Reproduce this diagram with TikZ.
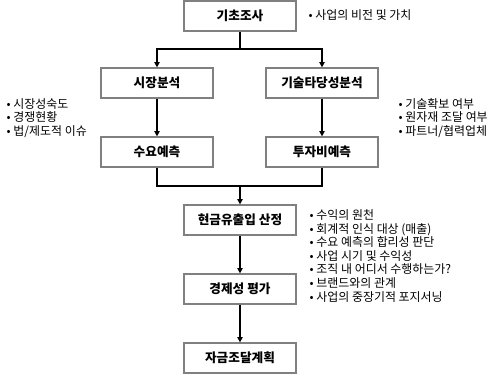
\documentclass[tikz,border=0pt]{standalone}
\usepackage{fontspec}
\setmainfont{Noto Sans CJK KR}
\usetikzlibrary{arrows.meta}

\begin{document}
\begin{tikzpicture}[x=0.02cm,y=-0.02cm,
        stepbox/.style={draw=black!50,line width=0.7pt,minimum width=2.24cm,minimum height=0.6cm,
            font=\fontsize{7.2}{8}\selectfont\bfseries,inner sep=0pt},
        note/.style={anchor=west,align=left,inner sep=0pt,font=\fontsize{6.8}{7.7}\selectfont},
        arr/.style={-{Triangle[length=3pt,width=3pt]}},
        line width=0.8pt]

    \useasboundingbox (0,0) rectangle (500,374);

    % boxes
    \node[stepbox] (gicho) at (240,16) {기초조사};
    \node[stepbox] (sijang) at (157,83) {시장분석};
    \node[stepbox] (gisul) at (322,83) {기술타당성분석};
    \node[stepbox] (suyo) at (157,152) {수요예측};
    \node[stepbox] (tuja) at (322,152) {투자비예측};
    \node[stepbox] (hyeon) at (240,220) {현금유출입 산정};
    \node[stepbox] (gyeong) at (240,289) {경제성 평가};
    \node[stepbox] (jageum) at (240,358) {자금조달계획};

    % notes
    \node[note] (n1) at (308,15) {• 사업의 비전 및 가치};
    \node[note] (n2) at (6,118) {• 시장성숙도\\• 경쟁현황\\• 법/제도적 이슈};
    \node[note] (n3) at (398,118) {• 기술확보 여부\\• 원자재 조달 여부\\• 파트너/협력업체};
    \node[note] (n4) at (309,256) {• 수익의 원천\\• 회계적 인식 대상 (매출)\\• 수요 예측의 합리성 판단\\• 사업 시기 및 수익성\\• 조직 내 어디서 수행하는가?\\• 브랜드와의 관계\\• 사업의 중장기적 포지서닝};

    % connectors
    \coordinate (split) at (240,49);
    \coordinate (join) at (240,186);
    \draw (gicho) -- (split);
    \draw[arr] (split) -| (sijang.north);
    \draw[arr] (split) -| (gisul.north);
    \draw[arr] (sijang) -- (suyo);
    \draw[arr] (gisul) -- (tuja);
    \draw (suyo.south) |- (join);
    \draw (tuja.south) |- (join);
    \draw[arr] (join) -- (hyeon);
    \draw[arr] (hyeon) -- (gyeong);
    \draw[arr] (gyeong) -- (jageum);

\end{tikzpicture}
\end{document}
